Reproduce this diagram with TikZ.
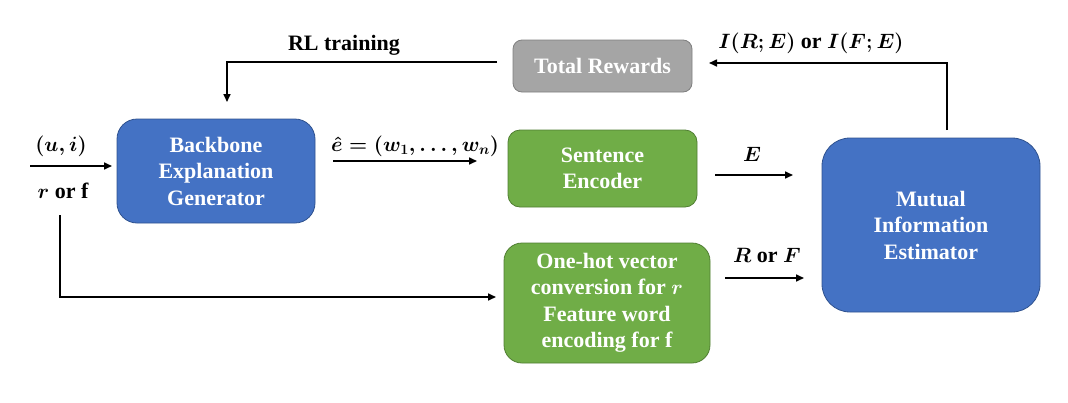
\documentclass[tikz,border=0pt]{standalone}
\usepackage{fontspec}
\usepackage{amsmath}
\usepackage{bm}
\setmainfont{Liberation Serif}
\usetikzlibrary{arrows.meta}
\definecolor{boxblue}{HTML}{4472C4}
\definecolor{boxblueb}{HTML}{2F528F}
\definecolor{boxgreen}{HTML}{70AD47}
\definecolor{boxgreenb}{HTML}{507E32}
\definecolor{boxgray}{HTML}{A5A5A5}
\definecolor{boxgrayb}{HTML}{7F7F7F}
\tikzset{
  txt/.style={font=\fontsize{22}{26.5}\selectfont\bfseries\boldmath, align=center, inner sep=0pt},
  blk/.style={txt, text=white, line width=0.8pt},
  bluebox/.style={blk, fill=boxblue, draw=boxblueb},
  greenbox/.style={blk, fill=boxgreen, draw=boxgreenb},
  graybox/.style={blk, fill=boxgray, draw=boxgrayb},
  arr/.style={line width=1.6pt, -{Triangle[length=8pt,width=7pt]}},
  lbl/.style={txt, text=black},
}
\begin{document}
\begin{tikzpicture}[x=1pt,y=-1pt]
\useasboundingbox (0,0) rectangle (1068,402);
% boxes
\node[bluebox, minimum width=198pt, minimum height=104pt, rounded corners=20pt] (bb) at (216,171) {Backbone\\Explanation\\Generator};
\node[graybox, minimum width=179pt, minimum height=52pt, rounded corners=9pt] (tr) at (602.5,66) {Total Rewards};
\node[greenbox, minimum width=189pt, minimum height=77pt, rounded corners=12pt] (se) at (602.5,168.5) {Sentence\\Encoder};
\node[greenbox, minimum width=206pt, minimum height=120pt, rounded corners=18pt] (oh) at (607,303) {One-hot vector\\conversion for $\bm{r}$\\Feature word\\encoding for f};
\node[bluebox, minimum width=218pt, minimum height=174pt, rounded corners=28pt] (mi) at (931,225) {Mutual\\Information\\Estimator};
% connector end points
\coordinate (rlS) at (497,62);
\coordinate (rlE) at (227,102);
\coordinate (miS) at (947,130);
\coordinate (miE) at (709,63);
\coordinate (inS) at (30,166);
\coordinate (inE) at (112,166);
\coordinate (rfS) at (60,215);
\coordinate (rfE) at (496,297);
\coordinate (eS) at (333,161);
\coordinate (eE) at (477,161);
\coordinate (EeS) at (715,175);
\coordinate (EeE) at (793,175);
\coordinate (RS) at (725,278);
\coordinate (RE) at (804,278);
% connectors
\draw[arr] (rlS) -| (rlE);
\draw[arr] (miS) |- (miE);
\draw[arr] (inS) -- (inE);
\draw[arr] (rfS) |- (rfE);
\draw[arr] (eS) -- (eE);
\draw[arr] (EeS) -- (EeE);
\draw[arr] (RS) -- (RE);
% labels
\node[lbl] (lrl) at (344,45) {RL training};
\node[lbl] (lmi) at (811,43) {$\bm{I(R;E)}$ or $\bm{I(F;E)}$};
\node[lbl] (lui) at (61,146) {$\bm{(u,i)}$};
\node[lbl] (lrf) at (63,191) {$\bm{r}$ or f};
\node[lbl] (le) at (415,146) {$\bm{\hat{e}=(w_1,\ldots,w_n)}$};
\node[lbl] (lE) at (752,154) {$\bm{E}$};
\node[lbl] (lRF) at (767,255) {$\bm{R}$ or $\bm{F}$};
\end{tikzpicture}
\end{document}
